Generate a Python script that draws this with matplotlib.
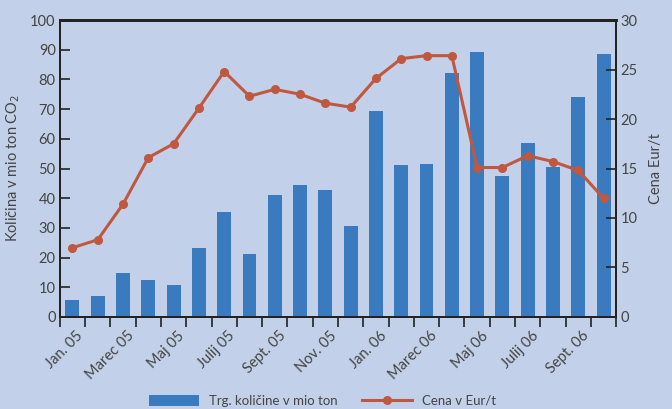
import matplotlib
matplotlib.use("Agg")
from matplotlib import pyplot as plt
import numpy as np

# meseci od jan. 2005 do okt. 2006
months = ["Jan. 05", "Feb. 05", "Marec 05", "April 05", "Maj 05", "Junij 05",
          "Julij 05", "Avg. 05", "Sept. 05", "Okt. 05", "Nov. 05", "Dec. 05",
          "Jan. 06", "Feb. 06", "Marec 06", "April 06", "Maj 06", "Junij 06",
          "Julij 06", "Avg. 06", "Sept. 06", "Okt. 06"]

# trgovane kolicine (mio ton CO2)
volume = [5.6, 7.0, 14.8, 12.4, 10.7, 23.3, 35.4, 21.2, 41.2, 44.6, 42.6,
          30.6, 69.5, 51.2, 51.6, 82.3, 89.4, 47.5, 58.7, 50.6, 74.2, 88.4]

# cena (Eur/t)
price = [7.0, 7.8, 11.4, 16.1, 17.5, 21.1, 24.8, 22.3, 23.0, 22.5, 21.6,
         21.2, 24.1, 26.1, 26.4, 26.4, 15.1, 15.1, 16.3, 15.7, 14.8, 12.0]

BG = "#c2d1e9"
BAR = "#3a7bbf"
LINE = "#c0573f"
TXT = "#444444"

plt.rcParams["font.family"] = ["Lato", "DejaVu Sans"]
plt.rcParams["font.size"] = 10.5

fig = plt.figure(figsize=(6.72, 4.09), dpi=100)
fig.set_facecolor(BG)
ax = fig.add_axes([0.089, 0.225, 0.828, 0.726])
ax.set_facecolor(BG)

x = np.arange(len(months))
bars = ax.bar(x, volume, width=0.55, color=BAR, zorder=2,
              label="Trg. količine v mio ton")
ax.set_xlim(-0.5, len(months) - 0.5)
ax.set_ylim(0, 100)
ax.set_yticks(range(0, 101, 10))

ax2 = ax.twinx()
line, = ax2.plot(x, price, color=LINE, lw=2.2, marker="o", ms=5.5, zorder=3,
                 label="Cena v Eur/t")
ax2.set_ylim(0, 30)
ax2.set_yticks(range(0, 31, 5))

# meje kategorij kot kljukice na x osi, oznake vsak drugi mesec
ax.set_xticks(np.arange(-0.5, len(months), 1.0))
ax.set_xticklabels([])
ax.tick_params(axis="x", direction="out", length=7, width=1.2, color="#222")
for i in range(0, len(months) - 1, 2):
    ax.text(i + 0.15, -4, months[i], rotation=45, ha="right", va="top",
            color=TXT, fontsize=10.5, rotation_mode="anchor")

ax.tick_params(axis="y", direction="in", length=7, width=1.2, color="#222",
               labelcolor=TXT, pad=3)
ax2.tick_params(axis="y", direction="in", length=7, width=1.2, color="#222",
                labelcolor=TXT, pad=3)

for a in (ax, ax2):
    for s in a.spines.values():
        s.set_color("#222")
        s.set_linewidth(1.3)
ax.spines["top"].set_linewidth(2)
ax2.spines["top"].set_linewidth(2)

ax.set_ylabel("Količina v mio ton CO$_2$", color=TXT, fontsize=10.5, labelpad=6)
ax2.set_ylabel("Cena Eur/t", color=TXT, fontsize=10.5, labelpad=8)

fig.legend([bars, line], ["Trg. količine v mio ton", "Cena v Eur/t"],
           loc="center", bbox_to_anchor=(0.48, 0.02), ncol=2, frameon=False,
           handlelength=3.8, handleheight=0.9, columnspacing=1.8,
           handletextpad=0.8, labelcolor=TXT, fontsize=9.5)

fig.savefig("out.png", dpi=100, facecolor=BG)
